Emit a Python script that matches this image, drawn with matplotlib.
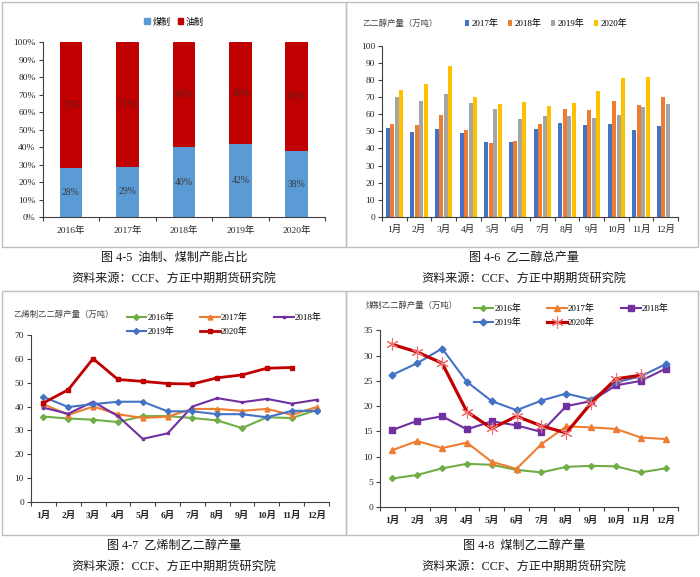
import numpy as np
import matplotlib
matplotlib.use("Agg")
import matplotlib.pyplot as plt
from matplotlib.patches import Rectangle, Patch
from matplotlib.lines import Line2D

plt.rcParams['font.family'] = ['Liberation Serif', 'Noto Sans CJK SC']
plt.rcParams['axes.unicode_minus'] = False

# ---- data ----
share_years = ['2016年', '2017年', '2018年', '2019年', '2020年']
share_coal = [28, 29, 40, 42, 38]
share_oil = [72, 71, 60, 58, 62]

months = ['1月', '2月', '3月', '4月', '5月', '6月', '7月', '8月', '9月', '10月', '11月', '12月']

total_years = ['2017年', '2018年', '2019年', '2020年']
total_2017 = [52, 49.5, 51.5, 49, 44, 43.5, 51.5, 55, 53.5, 54.5, 50.5, 53]
total_2018 = [54.5, 53.5, 59.5, 51, 43, 44.5, 54.5, 63, 62.5, 67.5, 65.5, 70]
total_2019 = [70, 68, 72, 66.5, 63, 57, 59, 59, 58, 59.5, 64, 66]
total_2020 = [74, 77.5, 88, 70, 66, 67, 65, 66.5, 73.5, 81, 82]

eth_2016 = [35.8, 35, 34.5, 33.5, 36, 36, 35.2, 34.2, 31, 35.5, 35.2, 38.5]
eth_2017 = [41, 36.5, 40, 36.8, 35.2, 35.8, 39, 39, 38.2, 39, 36.5, 39.8]
eth_2018 = [39.5, 37, 42, 36, 26.5, 28.8, 40, 43.5, 41.8, 43.2, 41.2, 42.8]
eth_2019 = [44, 39.8, 41, 42, 42, 38, 38, 36.8, 36.8, 35.5, 38.2, 38.2]
eth_2020 = [41.5, 47, 60, 51.3, 50.5, 49.6, 49.4, 52, 53.2, 56, 56.3]

coal_2016 = [5.7, 6.4, 7.7, 8.6, 8.4, 7.4, 6.9, 8.0, 8.2, 8.1, 6.9, 7.7]
coal_2017 = [11.3, 13.1, 11.7, 12.8, 9.0, 7.6, 12.5, 16.0, 15.8, 15.5, 13.8, 13.5]
coal_2018 = [15.3, 17.1, 18.0, 15.4, 17.0, 16.2, 14.9, 20.0, 21.0, 24.1, 25.0, 27.4]
coal_2019 = [26.2, 28.5, 31.4, 24.8, 21.0, 19.2, 21.1, 22.5, 21.3, 24.7, 25.9, 28.3]
coal_2020 = [32.2, 30.7, 28.5, 18.9, 15.6, 18.0, 16.1, 14.7, 20.6, 25.4, 26.1]

W, H = 700, 577
fig = plt.figure(figsize=(W / 100, H / 100), dpi=100)

AX_COL = '#404040'
TXT = '#262626'


def px_axes(x0, y0, x1, y1):
    return fig.add_axes([x0 / W, 1 - y1 / H, (x1 - x0) / W, (y1 - y0) / H])


def fxy(x, y):
    return x / W, 1 - y / H


def style_axes(ax, n, bold_x=False):
    for s in ['top', 'right']:
        ax.spines[s].set_visible(False)
    for s in ['left', 'bottom']:
        ax.spines[s].set_color(AX_COL)
        ax.spines[s].set_linewidth(0.8)
    ax.set_xlim(-0.5, n - 0.5)
    ax.set_xticks(np.arange(-0.5, n, 1.0))
    ax.set_xticklabels([])
    ax.tick_params(axis='x', which='major', length=3, color=AX_COL, width=0.8, direction='out')
    ax.tick_params(axis='y', length=3, color=AX_COL, width=0.8, direction='out',
                   labelsize=6.8, labelcolor=TXT, pad=2)
    ax.set_xticks(np.arange(n), minor=True)
    ax.tick_params(axis='x', which='minor', length=0, labelsize=6.8, labelcolor=TXT, pad=6)


# panel borders
for (x0, y0, x1, y1) in [(2, 2, 346, 247), (346, 2, 698, 247), (2, 291, 346, 535), (346, 291, 698, 535)]:
    fig.patches.append(Rectangle(fxy(x0, y1), (x1 - x0) / W, (y1 - y0) / H, transform=fig.transFigure,
                                 fill=False, edgecolor='#BFBFBF', linewidth=1.0))

# captions
captions = [(174, '图 4-5  油制、煤制产能占比'), (524, '图 4-6  乙二醇总产量'),
            (174, '图 4-7  乙烯制乙二醇产量'), (524, '图 4-8  煤制乙二醇产量')]
for i, (cx, txt) in enumerate(captions):
    base = 258 if i < 2 else 546
    fig.text(*fxy(cx, base), txt, ha='center', va='center', fontsize=8.7, color='#1a1a1a')
    fig.text(*fxy(cx, base + 21), '资料来源：CCF、方正中期期货研究院', ha='center', va='center',
             fontsize=8.7, color='#1a1a1a')

# ---- panel 1: share ----
ax1 = px_axes(42.7, 42.3, 325, 217.3)
style_axes(ax1, len(share_years))
x = np.arange(len(share_years))
c_coal = np.array(share_coal) / 100
c_oil = np.array(share_oil) / 100
ax1.bar(x, c_coal, width=0.4, color='#5B9BD5')
ax1.bar(x, c_oil, width=0.4, bottom=c_coal, color='#C00000')
for xi, a, b in zip(x, c_coal, c_oil):
    ax1.text(xi, a / 2, '%d%%' % round(a * 100), ha='center', va='center', fontsize=7, color='#3a3a3a')
    ax1.text(xi, a + b / 2, '%d%%' % round(b * 100), ha='center', va='center', fontsize=7, color='#5a2020')
ax1.set_ylim(0, 1)
ax1.set_yticks(np.arange(0, 1.01, 0.1))
ax1.set_yticklabels(['%d%%' % round(v * 100) for v in np.arange(0, 1.01, 0.1)])
ax1.set_xticklabels(share_years, minor=True)
ax1.legend(handles=[Patch(color='#5B9BD5', label='煤制'), Patch(color='#C00000', label='油制')],
           loc='center', bbox_to_anchor=fxy(174, 22), bbox_transform=fig.transFigure, ncol=2,
           frameon=False, fontsize=6.5, handlelength=0.6, handleheight=0.6, handletextpad=0.3,
           columnspacing=0.8, borderpad=0)

# ---- panel 2: total output ----
ax2 = px_axes(382, 45.7, 678, 217)
style_axes(ax2, len(months))
x = np.arange(len(months))
bw = 0.18
cols2 = ['#4472C4', '#ED7D31', '#A5A5A5', '#FFC000']
for k, (vals, c, lab) in enumerate(zip([total_2017, total_2018, total_2019, total_2020], cols2, total_years)):
    xs = np.arange(len(vals)) + (k - 1.5) * bw
    ax2.bar(xs, vals, width=bw * 0.92, color=c, label=lab)
ax2.set_ylim(0, 100)
ax2.set_yticks(np.arange(0, 101, 10))
ax2.set_xticklabels(months, minor=True)
ax2.legend(loc='center left', bbox_to_anchor=fxy(460, 24), bbox_transform=fig.transFigure, ncol=4,
           frameon=False, fontsize=6.5, handlelength=0.5, handleheight=0.7, handletextpad=0.3,
           columnspacing=1.0, borderpad=0)
fig.text(*fxy(362, 24), '乙二醇产量（万吨）', ha='left', va='center', fontsize=6, color='#404040')


def line_legend(ax, handles, x0, y0, spacing):
    order = [0, 3, 1, 4, 2]
    hs = [handles[i] for i in order]
    ax.legend(handles=hs, loc='upper left', bbox_to_anchor=fxy(x0, y0), bbox_transform=fig.transFigure,
              ncol=3, frameon=False, fontsize=6.5, handlelength=2.2, handletextpad=0.1,
              columnspacing=spacing, borderpad=0, labelspacing=0.55)


# ---- panel 3: ethylene route ----
ax3 = px_axes(31, 334.7, 329, 502.3)
style_axes(ax3, len(months))
series3 = [
    (eth_2016, '2016年', '#70AD47', 'D', 3, 1.5),
    (eth_2017, '2017年', '#ED7D31', '^', 3.5, 1.5),
    (eth_2018, '2018年', '#7030A0', 's', 2, 1.5),
    (eth_2019, '2019年', '#4472C4', 'D', 3, 1.5),
    (eth_2020, '2020年', '#C00000', 's', 3.5, 2.0),
]
hs3 = []
for vals, lab, c, m, ms, lw in series3:
    h, = ax3.plot(np.arange(len(vals)), vals, color=c, marker=m, markersize=ms, linewidth=lw, label=lab)
    hs3.append(h)
ax3.set_ylim(0, 70)
ax3.set_yticks(np.arange(0, 71, 10))
ax3.set_xticklabels(months, minor=True, fontweight='bold')
line_legend(ax3, hs3, 122, 309, 2.9)
fig.text(*fxy(13, 315), '乙烯制乙二醇产量（万吨）', ha='left', va='center', fontsize=6, color='#404040')

# ---- panel 4: coal route ----
ax4 = px_axes(380, 330.3, 678, 507.3)
style_axes(ax4, len(months))
series4 = [
    (coal_2016, '2016年', '#70AD47', 'D', 3, 1.5, None),
    (coal_2017, '2017年', '#ED7D31', '^', 4.5, 1.5, None),
    (coal_2018, '2018年', '#7030A0', 's', 4.5, 1.5, None),
    (coal_2019, '2019年', '#4472C4', 'D', 3.5, 1.5, None),
    (coal_2020, '2020年', '#C00000', (6, 2, 0), 9, 2.3, '#F07070'),
]
hs4 = []
for vals, lab, c, m, ms, lw, mc in series4:
    kw = dict(color=c, marker=m, markersize=ms, linewidth=lw, label=lab)
    if mc:
        kw.update(markeredgecolor=mc, markerfacecolor=mc, markeredgewidth=0.8)
    h, = ax4.plot(np.arange(len(vals)), vals, **kw)
    hs4.append(h)
ax4.set_ylim(0, 35)
ax4.set_yticks(np.arange(0, 36, 5))
ax4.set_xticklabels(months, minor=True, fontweight='bold')
line_legend(ax4, hs4, 469, 300, 2.9)
fig.text(*fxy(366, 306), '煤制乙二醇产量（万吨）', ha='left', va='center', fontsize=6, color='#404040')

fig.savefig('out.png', dpi=100, facecolor='white')
